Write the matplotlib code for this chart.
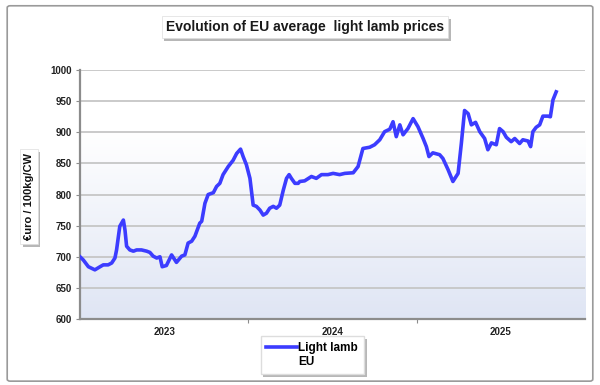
import matplotlib
matplotlib.use("Agg")
import matplotlib.pyplot as plt
import matplotlib.patheffects as pe
from matplotlib.patches import FancyBboxPatch
from matplotlib.colors import LinearSegmentedColormap
from matplotlib.lines import Line2D
import numpy as np

plt.rcParams['font.family'] = ['Liberation Sans', 'DejaVu Sans']

# week index from start of 2023 (52 weeks per year on the axis)
weeks = [0, 1, 2.6, 4.6, 6.2, 7.2, 8.7, 9.8, 10.8, 11.3, 12.3, 13.4, 13.9, 14.4,
         15.4, 16.5, 17.5, 19, 20.6, 21.6, 22.6, 23.7, 24.7, 25.4, 26.7, 28.3,
         29.3, 29.8, 31.4, 32.4, 33.4, 34.5, 35.5, 37, 37.6, 38.6, 39.6, 41.2,
         42.2, 43.2, 44.2, 45.8, 47.3, 48.4, 49.6, 50.4, 51.4, 52.5, 53.5, 54.5,
         55.6, 56.6, 57.6, 58.6, 59.7, 60.7, 61.7, 62.8, 63.8, 64.6, 65.3, 66.4,
         67.4, 67.9, 69.4, 71.5, 73, 74.6, 76.6, 78.2, 80.2, 81.8, 84.4, 85.9,
         87.4, 89.5, 91, 92.6, 94.1, 95.7, 96.7, 97.7, 98.8, 99.8, 101.3, 102.9,
         104.4, 106, 107, 107.8, 109, 111.1, 112.1, 113.7, 115.2, 116.8, 117.8,
         118.8, 119.9, 120.9, 122.2, 123.5, 125, 126, 127.1, 128.6, 129.6, 130.7,
         131.7, 133.2, 134.3, 135.8, 136.8, 138.4, 139.2, 139.9, 140.9, 142, 143,
         144.5, 145.3, 146.1, 147.1]
prices = [700, 695, 684, 679, 684, 687, 687, 690, 698, 711, 749, 759, 743, 717,
          711, 709, 711, 711, 709, 707, 701, 698, 700, 684, 686, 703,
          695, 691, 701, 703, 722, 725, 733, 754, 757, 786, 800, 803,
          813, 818, 832, 845, 855, 866, 873, 861, 848, 826, 783, 781,
          775, 767, 770, 778, 781, 778, 783, 807, 826, 832, 826, 818,
          818, 821, 822, 829, 826, 832, 832, 834, 832, 834, 835, 845,
          874, 876, 880, 888, 901, 905, 917, 893, 912, 896, 906, 922,
          909, 890, 877, 861, 867, 864, 858, 840, 821, 834, 882,
          935, 930, 912, 916, 901, 890, 872, 883, 880, 906, 901,
          892, 885, 890, 882, 888, 886, 877, 901, 908, 912, 926,
          926, 925, 952, 965]

year_labels = ["2023", "2024", "2025"]
year_centers = [26, 78, 130]
year_bounds = [52, 104]

fig = plt.figure(figsize=(6, 3.85), dpi=100)

# outer frame
frame = FancyBboxPatch((0.012, 0.01), 0.976, 0.975, boxstyle="round,pad=0,rounding_size=0.005",
                       transform=fig.transFigure, facecolor="none", edgecolor="#9a9a9a", lw=1.2,
                       zorder=10)
fig.patches.append(frame)

ax = fig.add_axes([0.1333, 0.1714, 0.8417, 0.6466])
ax.set_xlim(0, 156)
ax.set_ylim(600, 1000)

# background gradient
grad = np.linspace(0, 1, 256).reshape(-1, 1)
grad = np.clip(grad / 0.75, 0, 1)
cmap = LinearSegmentedColormap.from_list("bg", ["#dfe5f4", "#ffffff"])
ax.imshow(grad, aspect="auto", cmap=cmap, extent=[0, 156, 600, 1000], origin="lower", zorder=0)

ax.set_yticks(np.arange(600, 1001, 50))
ax.grid(axis='y', color="#c6c6c6", lw=1.3, zorder=1)
line, = ax.plot(weeks, prices, color="#3c3cff", lw=2.6, zorder=3, solid_joinstyle="round")

for s in ["top", "right"]:
    ax.spines[s].set_visible(False)
for s in ["left", "bottom"]:
    ax.spines[s].set_color("#8c8c8c")
    ax.spines[s].set_linewidth(1.6)

ax.set_xticks(year_bounds)
ax.set_xticklabels([])
ax.set_xticks(year_centers, minor=True)
ax.set_xticklabels(year_labels, minor=True)
ax.tick_params(axis='x', which='major', length=3, color="#8c8c8c")
ax.tick_params(axis='x', which='minor', length=0, pad=6, labelsize=7)
ax.tick_params(axis='y', length=3, color="#8c8c8c", labelsize=7, pad=3)
for lab in ax.get_yticklabels() + ax.get_xticklabels(minor=True):
    lab.set_fontweight("bold")
    lab.set_color("#222222")

shadow = [pe.SimplePatchShadow(offset=(2, -2), shadow_rgbFace="#888888", alpha=0.6), pe.Normal()]

t = fig.text(0.508, 0.93, "Evolution of EU average  light lamb prices", ha="center", va="center",
             fontsize=10, fontweight="bold", color="#1a1a1a",
             bbox=dict(boxstyle="square,pad=0.3", facecolor="white", edgecolor="#dddddd", lw=0.5))
t.get_bbox_patch().set_path_effects(shadow)

yl = fig.text(0.048, 0.49, "\u20acuro / 100kg/CW", rotation=90, ha="center", va="center",
              fontsize=8, fontweight="bold", color="#111111",
              bbox=dict(boxstyle="square,pad=0.35", facecolor="white", edgecolor="#dddddd", lw=0.5))
yl.get_bbox_patch().set_path_effects(shadow)

blank = Line2D([], [], color="none")
leg = ax.legend([line, blank], ["Light lamb", "EU"], loc="upper center",
                bbox_to_anchor=(0.46, -0.07), borderaxespad=0, frameon=True, fancybox=False,
                framealpha=1, prop={"weight": "bold", "size": 8.5}, handlelength=2.6,
                handletextpad=0.1, borderpad=0.5, labelspacing=0.15)
leg.get_frame().set_edgecolor("#dddddd")
leg.get_frame().set_path_effects(shadow)
leg.set_zorder(5)

fig.savefig("out.png", dpi=100)
